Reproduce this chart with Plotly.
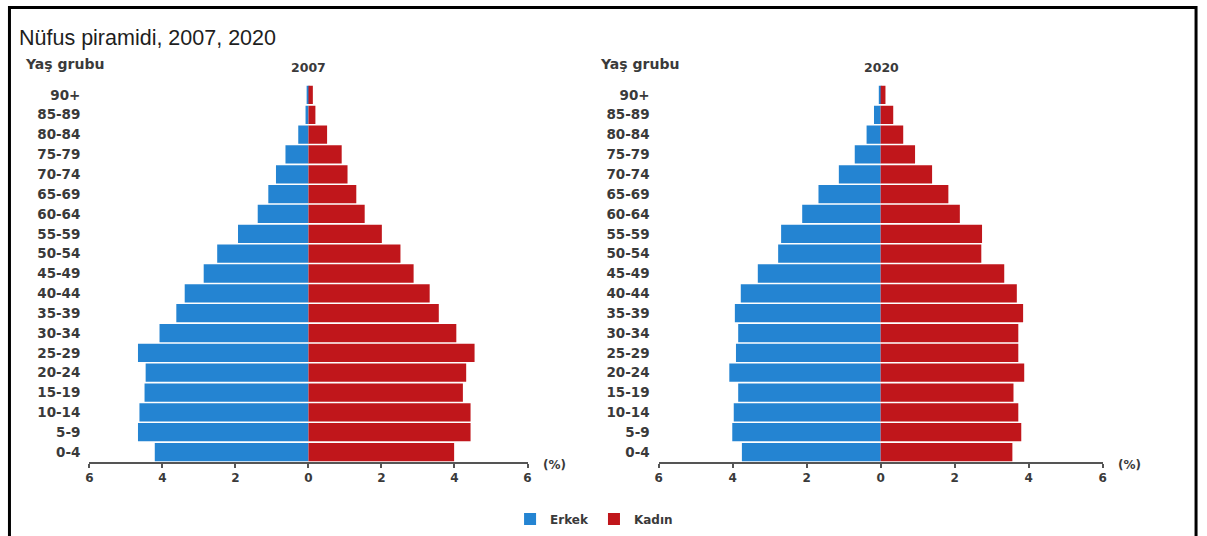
import plotly.graph_objects as go

W, H = 1207, 536

age_groups = ["0-4", "5-9", "10-14", "15-19", "20-24", "25-29", "30-34", "35-39",
              "40-44", "45-49", "50-54", "55-59", "60-64", "65-69", "70-74",
              "75-79", "80-84", "85-89", "90+"]

male_2007 = [4.21, 4.67, 4.63, 4.49, 4.46, 4.67, 4.08, 3.62, 3.39, 2.87,
             2.50, 1.93, 1.39, 1.10, 0.89, 0.63, 0.28, 0.08, 0.05]
female_2007 = [3.99, 4.44, 4.44, 4.23, 4.32, 4.55, 4.05, 3.57, 3.32, 2.88,
               2.52, 2.01, 1.54, 1.31, 1.07, 0.91, 0.51, 0.19, 0.12]

male_2020 = [3.75, 4.01, 3.97, 3.85, 4.09, 3.91, 3.85, 3.94, 3.78, 3.32,
             2.77, 2.69, 2.12, 1.68, 1.13, 0.70, 0.38, 0.18, 0.05]
female_2020 = [3.56, 3.80, 3.72, 3.59, 3.88, 3.72, 3.72, 3.85, 3.68, 3.34,
               2.72, 2.74, 2.14, 1.83, 1.39, 0.93, 0.61, 0.34, 0.13]

tick_vals = [-6, -4, -2, 0, 2, 4, 6]
tick_text = ["6", "4", "2", "0", "2", "4", "6"]

BLUE = "#2484d2"
RED = "#c0161b"
TXT = "#3a3a3a"
FONT = "DejaVu Sans"
TFONT = "Liberation Sans"


def px(x):
    return x / W


def py(y):
    return 1 - y / H


fig = go.Figure()
panels = [("x", "y", male_2007, female_2007, True),
          ("x2", "y2", male_2020, female_2020, False)]
for xa, ya, m, f, show in panels:
    fig.add_trace(go.Bar(y=age_groups, x=[-v for v in m], orientation="h",
                         name="Erkek", marker=dict(color=BLUE, line=dict(width=0)),
                         xaxis=xa, yaxis=ya, legendgroup="m", showlegend=show))
    fig.add_trace(go.Bar(y=age_groups, x=f, orientation="h",
                         name="Kadın", marker=dict(color=RED, line=dict(width=0)),
                         xaxis=xa, yaxis=ya, legendgroup="f", showlegend=show))

xcommon = dict(range=[-6, 6], tickvals=tick_vals, ticktext=tick_text,
               showgrid=False, zeroline=False, showline=True, linecolor="#555555",
               linewidth=1.5, ticks="outside", ticklen=4, tickcolor="#555555",
               tickwidth=1.5, fixedrange=True,
               tickfont=dict(family=FONT, size=12, color=TXT, weight="bold"))
ycommon = dict(type="category", categoryorder="array", categoryarray=age_groups,
               range=[-0.5, 18.5], showgrid=False, zeroline=False, showline=False,
               ticks="", ticklabelstandoff=8, fixedrange=True,
               tickfont=dict(family=FONT, size=13.5, color=TXT, weight="bold"))

ydom = [py(462), py(85)]
fig.update_layout(
    width=W, height=H,
    margin=dict(l=0, r=0, t=0, b=0),
    paper_bgcolor="white", plot_bgcolor="white",
    barmode="overlay", bargap=0.08,
    xaxis=dict(domain=[px(86), px(527)], anchor="y", **xcommon),
    yaxis=dict(domain=ydom, anchor="x", **ycommon),
    xaxis2=dict(domain=[px(659), px(1106)], anchor="y2", **xcommon),
    yaxis2=dict(domain=ydom, anchor="x2", **ycommon),
    legend=dict(orientation="h", x=px(594), xanchor="center", y=py(519), yanchor="middle",
                font=dict(family=FONT, size=12, color=TXT, weight="bold"),
                itemwidth=30, tracegroupgap=0, bgcolor="rgba(0,0,0,0)"),
    showlegend=True,
)

annos = [
    dict(text="Nüfus piramidi, 2007, 2020", x=px(13), y=py(38), xanchor="left",
         yanchor="middle", font=dict(family=TFONT, size=21.5, color="#1e1e1e")),
    dict(text="Yaş grubu", x=px(19), y=py(64), xanchor="left", yanchor="middle",
         font=dict(family=FONT, size=14, color=TXT, weight="bold")),
    dict(text="Yaş grubu", x=px(598), y=py(64), xanchor="left", yanchor="middle",
         font=dict(family=FONT, size=14, color=TXT, weight="bold")),
    dict(text="2007", x=px(307), y=py(67), xanchor="center", yanchor="middle",
         font=dict(family=FONT, size=12.5, color=TXT, weight="bold")),
    dict(text="2020", x=px(883), y=py(67), xanchor="center", yanchor="middle",
         font=dict(family=FONT, size=12.5, color=TXT, weight="bold")),
    dict(text="(%)", x=px(554), y=py(465), xanchor="center", yanchor="middle",
         font=dict(family=FONT, size=12, color=TXT, weight="bold")),
    dict(text="(%)", x=px(1133), y=py(465), xanchor="center", yanchor="middle",
         font=dict(family=FONT, size=12, color=TXT, weight="bold")),
]
for a in annos:
    a.update(xref="paper", yref="paper", showarrow=False)
fig.update_layout(annotations=annos)

fig.add_shape(type="rect", xref="paper", yref="paper",
              x0=px(5.5), x1=px(1200), y0=py(545), y1=py(7.5),
              line=dict(color="black", width=3), fillcolor="rgba(0,0,0,0)")

fig.write_html("out.html", config={"displayModeBar": False},
               post_script="document.body.style.margin='0';document.body.style.overflow='hidden';")
